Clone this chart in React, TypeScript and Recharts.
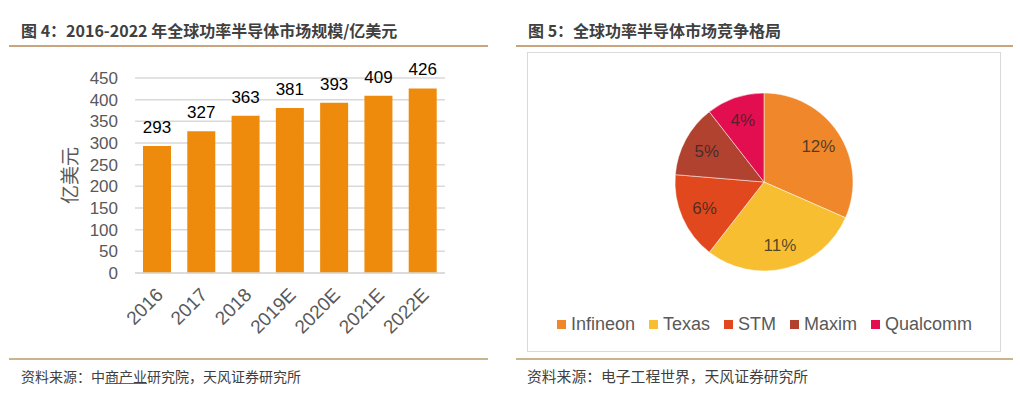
import React from 'react';
import { BarChart, Bar, XAxis, YAxis, CartesianGrid, LabelList, PieChart, Pie, Cell, Legend } from 'recharts';

const years = ['2016', '2017', '2018', '2019E', '2020E', '2021E', '2022E'];
const marketSize = [293, 327, 363, 381, 393, 409, 426];
const yTicks = [0, 50, 100, 150, 200, 250, 300, 350, 400, 450];

const companies = ['Infineon', 'Texas', 'STM', 'Maxim', 'Qualcomm'];
const shares = [12, 11, 6, 5, 4];
const shareColors = ['#F0872A', '#F8BE32', '#E2481E', '#B24230', '#E20E50'];

const barData = years.map((y, i) => ({ year: y, value: marketSize[i] }));
const pieData = companies.map((c, i) => ({ name: c, value: shares[i] }));

const LATIN = '"Liberation Sans", Arial, sans-serif';
const CJK = '"Noto Sans CJK SC", "Noto Sans", sans-serif';
const RADIAN = Math.PI / 180;

const XTick = (props: any) => {
  const { x, y, payload } = props;
  const tx = x + 7;
  const ty = y + 15;
  return (
    <text x={tx} y={ty} transform={`rotate(-45, ${tx}, ${ty})`} textAnchor="end" fontSize={19} fill="#595959" fontFamily={LATIN}>
      {payload.value}
    </text>
  );
};

const YLabel = (props: any) => {
  const { viewBox } = props;
  const x = viewBox.x + 68;
  const y = viewBox.y + viewBox.height / 2;
  return (
    <text x={x} y={y} transform={`rotate(-90, ${x}, ${y})`} textAnchor="middle" dominantBaseline="central" fontSize={19} fill="#595959" fontFamily={CJK}>
      亿美元
    </text>
  );
};

const PieLabel = (props: any) => {
  const { cx, cy, midAngle, value } = props;
  const r = 65;
  const x = cx + r * Math.cos(-midAngle * RADIAN);
  const y = cy + r * Math.sin(-midAngle * RADIAN);
  return (
    <text x={x} y={y} textAnchor="middle" dominantBaseline="central" fontSize={17} fill="#262626" fillOpacity={0.78} fontFamily={LATIN}>
      {`${value}%`}
    </text>
  );
};

const PieLegend = () => (
  <div style={{ display: 'flex', justifyContent: 'center', alignItems: 'center', fontFamily: LATIN, fontSize: 18, color: '#595959', whiteSpace: 'nowrap' }}>
    {companies.map((c, i) => (
      <div key={c} style={{ display: 'flex', alignItems: 'center', marginRight: i < companies.length - 1 ? 14 : 0 }}>
        <span style={{ display: 'inline-block', width: 9, height: 9, background: shareColors[i], marginRight: 5 }} />
        <span>{c}</span>
      </div>
    ))}
  </div>
);

export default function App() {
  return (
    <div style={{ position: 'absolute', left: 0, top: 0, width: 1020, height: 399, background: '#fff', overflow: 'hidden' }}>
      {/* Left title */}
      <div style={{ position: 'absolute', left: 21, top: 19, fontSize: 16, lineHeight: '22px', fontWeight: 'bold', color: '#404040', fontFamily: CJK, whiteSpace: 'nowrap' }}>
        图 4：2016-2022 年全球功率半导体市场规模/亿美元
      </div>
      <div style={{ position: 'absolute', left: 9, top: 45, width: 479, height: 1.5, background: '#C9A57F' }} />
      {/* Right title */}
      <div style={{ position: 'absolute', left: 528, top: 19, fontSize: 16, lineHeight: '22px', fontWeight: 'bold', color: '#404040', fontFamily: CJK, whiteSpace: 'nowrap' }}>
        图 5：全球功率半导体市场竞争格局
      </div>
      <div style={{ position: 'absolute', left: 516, top: 45, width: 497, height: 1.5, background: '#C9A57F' }} />

      {/* Bar chart */}
      <div style={{ position: 'absolute', left: 0, top: 0 }}>
        <BarChart width={460} height={345} data={barData} margin={{ top: 78, right: 15, left: 0, bottom: 12 }}>
          <CartesianGrid vertical={false} stroke="#D9D9D9" strokeWidth={1.5} />
          <XAxis dataKey="year" height={60} interval={0} tickLine={false} axisLine={{ stroke: '#D9D9D9', strokeWidth: 1.5 }} tick={<XTick />} />
          <YAxis width={135} domain={[0, 450]} ticks={yTicks} interval={0} tickLine={false} axisLine={false} tickMargin={11}
            tick={{ fontSize: 17, fill: '#595959', fontFamily: LATIN }} label={<YLabel />} />
          <Bar dataKey="value" fill="#EF8B0C" barSize={28} isAnimationActive={false}>
            <LabelList dataKey="value" position="top" offset={13} style={{ fontSize: 17, fill: '#000', fontFamily: LATIN }} />
          </Bar>
        </BarChart>
      </div>

      {/* Right box */}
      <div style={{ position: 'absolute', left: 527, top: 52, width: 472, height: 298, border: '1.5px solid #D9D9D9' }} />
      <div style={{ position: 'absolute', left: 527, top: 52 }}>
        <PieChart width={475} height={301} margin={{ top: 0, right: 0, bottom: 0, left: 0 }}>
          <Pie data={pieData} dataKey="value" nameKey="name" cx={237} cy={130} outerRadius={89} startAngle={90} endAngle={-270}
            stroke="#fff" strokeWidth={0.5} label={<PieLabel />} labelLine={false} isAnimationActive={false}>
            {pieData.map((d, i) => (
              <Cell key={d.name} fill={shareColors[i]} />
            ))}
          </Pie>
          <Legend content={<PieLegend />} verticalAlign="bottom" wrapperStyle={{ left: 0, width: 475, top: 262 }} />
        </PieChart>
      </div>

      {/* Bottom lines and sources */}
      <div style={{ position: 'absolute', left: 9, top: 358, width: 479, height: 1.5, background: '#C9B48C' }} />
      <div style={{ position: 'absolute', left: 516, top: 358, width: 497, height: 1.5, background: '#C9B48C' }} />
      <div style={{ position: 'absolute', left: 21, top: 366, fontSize: 14, lineHeight: '20px', color: '#404040', fontFamily: CJK, whiteSpace: 'nowrap' }}>
        资料来源：中<span style={{ textDecoration: 'underline', textDecorationColor: '#4A6A9A' }}>商产业</span>研究院，天风证券研究所
      </div>
      <div style={{ position: 'absolute', left: 527, top: 366, fontSize: 14.8, lineHeight: '20px', color: '#404040', fontFamily: CJK, whiteSpace: 'nowrap' }}>
        资料来源：电子工程世界，天风证券研究所
      </div>
    </div>
  );
}
